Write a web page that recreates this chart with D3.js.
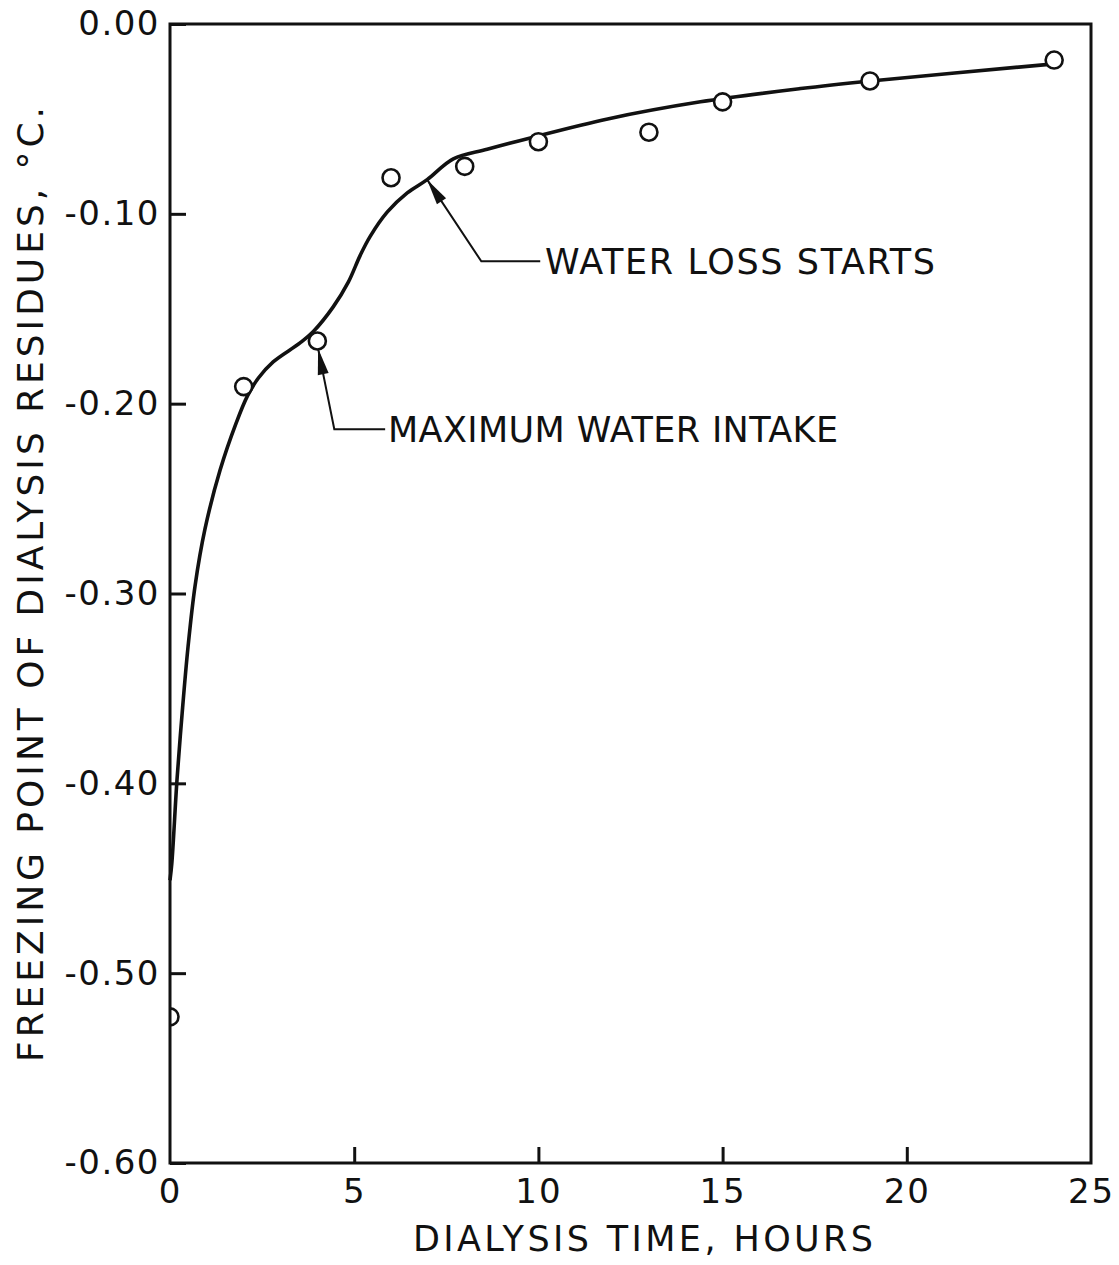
<!DOCTYPE html>
<html>
<head>
<meta charset="utf-8">
<script src="https://cdn.jsdelivr.net/npm/d3@7"></script>
<style>
  html, body { margin: 0; padding: 0; background: #fff; }
  svg { display: block; }
  text { font-family: "DejaVu Sans", "Liberation Sans", sans-serif; fill: #111; }
</style>
</head>
<body>
<svg id="chart" width="1119" height="1265"></svg>
<script>
// Measured freezing points of the dialysis residues (hours, °C)
const hours = [0, 2, 4, 6, 8, 10, 13, 15, 19, 24];
const freezingPoint = [-0.523, -0.191, -0.167, -0.081, -0.075, -0.062, -0.057, -0.041, -0.030, -0.019];

// Hand-fitted smooth curve drawn through the measurements
const curveHours = [0, 0.05, 0.19, 0.33, 0.49, 0.68, 0.95, 1.36, 1.80, 2.10, 2.40, 2.80, 3.53, 3.89, 4.43, 4.84, 5.16, 5.43, 5.90, 6.44, 6.98, 7.69, 8.61, 9.78, 11.88, 14.40, 17.12, 19.02, 24.0];
const curveValues = [-0.451, -0.442, -0.398, -0.363, -0.328, -0.296, -0.266, -0.235, -0.210, -0.196, -0.1865, -0.178, -0.168, -0.162, -0.149, -0.136, -0.122, -0.112, -0.099, -0.089, -0.082, -0.071, -0.066, -0.060, -0.050, -0.041, -0.034, -0.030, -0.021];

// Axis ticks
const xTicks = [0, 5, 10, 15, 20, 25];
const xTickLabels = ["0", "5", "10", "15", "20", "25"];
const yTicks = [0, -0.1, -0.2, -0.3, -0.4, -0.5, -0.6];
const yTickLabels = ["0.00", "-0.10", "-0.20", "-0.30", "-0.40", "-0.50", "-0.60"];

// Callouts: arrow tip on the curve, knee of the leader line, label
const calloutLabels = ["MAXIMUM WATER INTAKE", "WATER LOSS STARTS"];
const calloutTip = [[4.02, -0.171], [6.98, -0.082]];
const calloutKnee = [[4.46, -0.2135], [8.45, -0.125]];
const calloutEnd = [5.84, 10.05];

const svg = d3.select("#chart");
const margin = { left: 170, top: 24, right: 28, bottom: 102 };
const W = 1119, H = 1265;
const innerW = W - margin.left - margin.right;
const innerH = H - margin.top - margin.bottom;

const x = d3.scaleLinear().domain([0, 25]).range([margin.left, margin.left + innerW]);
const y = d3.scaleLinear().domain([-0.6, 0]).range([margin.top + innerH, margin.top]);

svg.append("defs").append("clipPath").attr("id", "plotClip")
  .append("rect")
  .attr("x", margin.left).attr("y", margin.top)
  .attr("width", innerW).attr("height", innerH);

// Fitted curve
const curveData = curveHours.map((h, i) => [h, curveValues[i]]);
svg.append("path")
  .datum(curveData)
  .attr("fill", "none")
  .attr("stroke", "#111")
  .attr("stroke-width", 3.6)
  .attr("stroke-linejoin", "round")
  .attr("d", d3.line().x(d => x(d[0])).y(d => y(d[1])).curve(d3.curveCatmullRom.alpha(0.5)));

// Observations as open circles
svg.append("g").attr("clip-path", "url(#plotClip)")
  .selectAll("circle")
  .data(hours.map((h, i) => [h, freezingPoint[i]]))
  .join("circle")
  .attr("cx", d => x(d[0]))
  .attr("cy", d => y(d[1]))
  .attr("r", 8.5)
  .attr("fill", "#fff")
  .attr("stroke", "#111")
  .attr("stroke-width", 2.6);

// Frame
svg.append("rect")
  .attr("x", margin.left).attr("y", margin.top)
  .attr("width", innerW).attr("height", innerH)
  .attr("fill", "none").attr("stroke", "#111").attr("stroke-width", 3);

// Left axis: inward ticks, labels outside
const yAxis = d3.axisLeft(y).tickValues(yTicks)
  .tickSize(-16).tickPadding(12)
  .tickFormat((d, i) => yTickLabels[i]);
const gy = svg.append("g").attr("transform", `translate(${margin.left},0)`).call(yAxis);
gy.select(".domain").remove();
gy.selectAll(".tick line").attr("stroke", "#111").attr("stroke-width", 3);
gy.selectAll(".tick text")
  .attr("x", -10)
  .style("font-size", "34px")
  .style("letter-spacing", "1.5px")
  .style("font-family", "'DejaVu Sans', sans-serif")
  .attr("fill", "#111");

// Bottom axis
const xAxis = d3.axisBottom(x).tickValues(xTicks)
  .tickSize(-16).tickPadding(16)
  .tickFormat((d, i) => xTickLabels[i]);
const gx = svg.append("g").attr("transform", `translate(0,${margin.top + innerH})`).call(xAxis);
gx.select(".domain").remove();
gx.selectAll(".tick line").attr("stroke", "#111").attr("stroke-width", 3);
gx.selectAll(".tick text")
  .style("font-size", "34px")
  .style("letter-spacing", "2px")
  .style("font-family", "'DejaVu Sans', sans-serif")
  .attr("fill", "#111");
gx.selectAll(".tick").filter(d => d === 0 || d === 25).select("line").remove();

// Axis titles
svg.append("text")
  .attr("x", 413).attr("y", 1251)
  .attr("textLength", 460).attr("lengthAdjust", "spacing")
  .style("font-size", "35px")
  .text("DIALYSIS TIME, HOURS");

svg.append("text")
  .attr("transform", "translate(43,1062) rotate(-90)")
  .attr("textLength", 955).attr("lengthAdjust", "spacing")
  .style("font-size", "36px")
  .text("FREEZING POINT OF DIALYSIS RESIDUES, °C.");

// Callouts with arrowheads
const calloutTextX = [388, 545];
const calloutTextLen = [450, 390];
calloutLabels.forEach((label, i) => {
  const tip = [x(calloutTip[i][0]), y(calloutTip[i][1])];
  const knee = [x(calloutKnee[i][0]), y(calloutKnee[i][1])];
  const end = [x(calloutEnd[i]), knee[1]];
  svg.append("path")
    .attr("d", d3.line()([end, knee, tip]))
    .attr("fill", "none").attr("stroke", "#111").attr("stroke-width", 2);
  // filled arrowhead aligned with the leader
  const ang = Math.atan2(tip[1] - knee[1], tip[0] - knee[0]);
  const len = 26, half = 5.5;
  const bx = tip[0] - len * Math.cos(ang), by = tip[1] - len * Math.sin(ang);
  const px = -Math.sin(ang) * half, py = Math.cos(ang) * half;
  svg.append("path")
    .attr("d", `M${tip[0]},${tip[1]}L${bx + px},${by + py}L${bx - px},${by - py}Z`)
    .attr("fill", "#111");
  svg.append("text")
    .attr("x", calloutTextX[i]).attr("y", knee[1] + 13)
    .attr("textLength", calloutTextLen[i]).attr("lengthAdjust", "spacing")
    .style("font-size", "35px")
    .text(label);
});
</script>
</body>
</html>
